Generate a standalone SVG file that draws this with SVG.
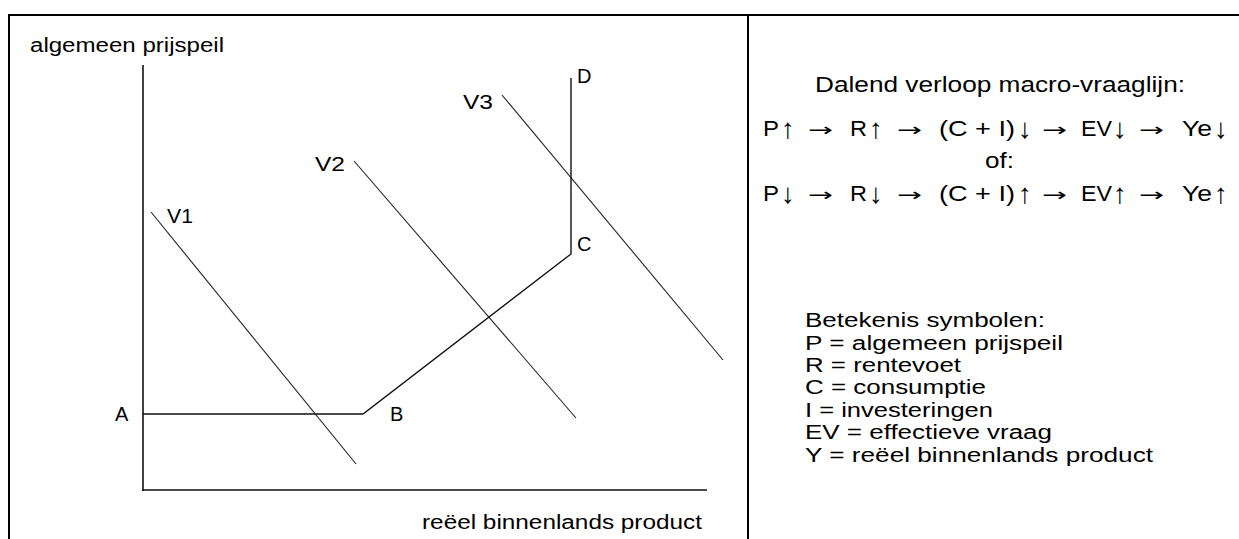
<svg xmlns="http://www.w3.org/2000/svg" width="1239" height="539" viewBox="0 0 1239 539">
<style>
text{font-family:"Liberation Sans",Arial,"DejaVu Sans",sans-serif;font-size:20px;fill:#000}
.big{font-size:22px}
.va{font-size:28px}
.ha{font-family:"DejaVu Sans",sans-serif;font-size:18px}
.frame{stroke:#000;stroke-width:2;fill:none}
.axis{stroke:#111;stroke-width:1.6;fill:none}
.curve{stroke:#222;stroke-width:1.1;fill:none}
.path{stroke:#111;stroke-width:1.4;fill:none}
</style>
<rect width="1239" height="539" fill="#fff"/>
<g id="frame">
<path class="frame" d="M9,539 V15 H1239"/>
<line class="frame" x1="748" y1="15" x2="748" y2="539"/>
</g>
<g id="axes">
<line class="axis" x1="143" y1="65" x2="143" y2="491"/>
<line class="axis" x1="142" y1="490" x2="707" y2="490"/>
<text x="30" y="52" textLength="194" lengthAdjust="spacingAndGlyphs">algemeen prijspeil</text>
<text x="422" y="529" textLength="280" lengthAdjust="spacingAndGlyphs">reëel binnenlands product</text>
</g>
<g id="V1">
<line class="curve" x1="151" y1="212" x2="356" y2="464"/>
<text x="167" y="223" textLength="26" lengthAdjust="spacingAndGlyphs">V1</text>
</g>
<g id="V2">
<line class="curve" x1="354" y1="161" x2="576" y2="418"/>
<text x="315" y="171" textLength="30" lengthAdjust="spacingAndGlyphs">V2</text>
</g>
<g id="V3">
<line class="curve" x1="502" y1="95" x2="723" y2="360"/>
<text x="463" y="109" textLength="30" lengthAdjust="spacingAndGlyphs">V3</text>
</g>
<g id="connectors">
<polyline class="path" points="143,414 363,414 571,254 571,78"/>
</g>
<g id="A"><text x="115" y="421">A</text></g>
<g id="B"><text x="390" y="421">B</text></g>
<g id="C"><text x="577" y="251">C</text></g>
<g id="D"><text x="577" y="83">D</text></g>
<g id="explanation">
<text class="big" x="815" y="92" textLength="370" lengthAdjust="spacingAndGlyphs">Dalend verloop macro-vraaglijn:</text>
<g id="row1">
<text class="big" x="763" y="136" textLength="16" lengthAdjust="spacingAndGlyphs">P</text>
<text class="va" x="781" y="138">↑</text>
<text class="ha" x="808" y="136" textLength="25" lengthAdjust="spacingAndGlyphs">→</text>
<text class="big" x="850" y="136" textLength="17" lengthAdjust="spacingAndGlyphs">R</text>
<text class="va" x="869" y="138">↑</text>
<text class="ha" x="897" y="136" textLength="25" lengthAdjust="spacingAndGlyphs">→</text>
<text class="big" x="939" y="136" textLength="76" lengthAdjust="spacingAndGlyphs">(C + I)</text>
<text class="va" x="1018" y="138">↓</text>
<text class="ha" x="1042" y="136" textLength="25" lengthAdjust="spacingAndGlyphs">→</text>
<text class="big" x="1081" y="136" textLength="31" lengthAdjust="spacingAndGlyphs">EV</text>
<text class="va" x="1113" y="138">↓</text>
<text class="ha" x="1139" y="136" textLength="25" lengthAdjust="spacingAndGlyphs">→</text>
<text class="big" x="1182" y="136" textLength="30" lengthAdjust="spacingAndGlyphs">Ye</text>
<text class="va" x="1214" y="138">↓</text>
</g>
<text class="big" x="985" y="168" textLength="29" lengthAdjust="spacingAndGlyphs">of:</text>
<g id="row2">
<text class="big" x="763" y="201" textLength="16" lengthAdjust="spacingAndGlyphs">P</text>
<text class="va" x="781" y="203">↓</text>
<text class="ha" x="808" y="201" textLength="25" lengthAdjust="spacingAndGlyphs">→</text>
<text class="big" x="850" y="201" textLength="17" lengthAdjust="spacingAndGlyphs">R</text>
<text class="va" x="869" y="203">↓</text>
<text class="ha" x="897" y="201" textLength="25" lengthAdjust="spacingAndGlyphs">→</text>
<text class="big" x="939" y="201" textLength="76" lengthAdjust="spacingAndGlyphs">(C + I)</text>
<text class="va" x="1018" y="203">↑</text>
<text class="ha" x="1042" y="201" textLength="25" lengthAdjust="spacingAndGlyphs">→</text>
<text class="big" x="1081" y="201" textLength="31" lengthAdjust="spacingAndGlyphs">EV</text>
<text class="va" x="1113" y="203">↑</text>
<text class="ha" x="1139" y="201" textLength="25" lengthAdjust="spacingAndGlyphs">→</text>
<text class="big" x="1182" y="201" textLength="30" lengthAdjust="spacingAndGlyphs">Ye</text>
<text class="va" x="1214" y="203">↑</text>
</g>
<text x="805" y="327" font-size="21" textLength="240" lengthAdjust="spacingAndGlyphs">Betekenis symbolen:</text>
<text x="805" y="350" font-size="21" textLength="258" lengthAdjust="spacingAndGlyphs">P = algemeen prijspeil</text>
<text x="805" y="372" font-size="21" textLength="156" lengthAdjust="spacingAndGlyphs">R = rentevoet</text>
<text x="805" y="394" font-size="21" textLength="181" lengthAdjust="spacingAndGlyphs">C = consumptie</text>
<text x="805" y="417" font-size="21" textLength="188" lengthAdjust="spacingAndGlyphs">I = investeringen</text>
<text x="805" y="439" font-size="21" textLength="247" lengthAdjust="spacingAndGlyphs">EV = effectieve vraag</text>
<text x="805" y="462" font-size="21" textLength="348" lengthAdjust="spacingAndGlyphs">Y = reëel binnenlands product</text>
</g>
</svg>
